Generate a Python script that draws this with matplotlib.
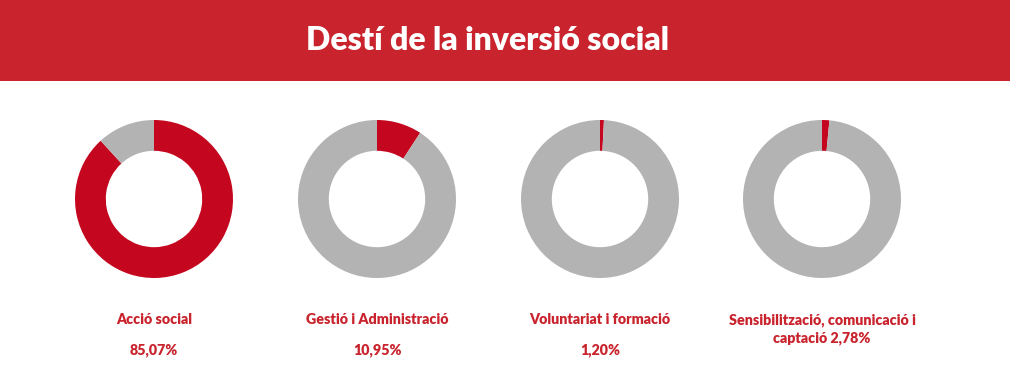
import matplotlib
matplotlib.use("Agg")
import matplotlib.pyplot as plt
from matplotlib.patches import Rectangle

W, H = 1010, 381

title = "Destí de la inversió social"
labels = ["Acció social", "Gestió i Administració", "Voluntariat i formació",
          "Sensibilització, comunicació i\ncaptació 2,78%"]
pct_text = ["85,07%", "10,95%", "1,20%", ""]
# red share as drawn in the rings
values = [88.2, 9.2, 0.8, 1.5]

red = "#c4071f"
grey = "#b3b3b3"
text_red = "#c9232d"
banner = "#c9232d"

plt.rcParams["font.family"] = ["Lato", "DejaVu Sans"]

fig = plt.figure(figsize=(W / 100, H / 100), dpi=100)
fig.patch.set_facecolor("white")

# banner
fig.patches.append(Rectangle((0, 1 - 81 / H), 1, 81 / H, transform=fig.transFigure,
                             facecolor=banner, edgecolor="none", zorder=0))
fig.text(488 / W, 1 - 40 / H, title, color="white", fontsize=23, fontweight="heavy",
         ha="center", va="center")

centers = [154, 377, 600, 822]
r = 79
for cx, lab, pt, v in zip(centers, labels, pct_text, values):
    ax = fig.add_axes([(cx - r) / W, 1 - (199 + r) / H, 2 * r / W, 2 * r / H])
    ax.pie([v, 100 - v], colors=[red, grey], startangle=90, counterclock=False,
           wedgeprops=dict(width=0.39, edgecolor="none"), radius=1)
    ax.set_xlim(-1, 1)
    ax.set_ylim(-1, 1)
    ax.set_aspect("equal")
    ax.axis("off")

    if "\n" in lab:
        fig.text(cx / W, 1 - 329 / H, lab, color=text_red, fontsize=10.3, fontweight="heavy",
                 ha="center", va="center", linespacing=1.4)
    else:
        fig.text(cx / W, 1 - 320 / H, lab, color=text_red, fontsize=10.3, fontweight="heavy",
                 ha="center", va="center")
        fig.text(cx / W, 1 - 350 / H, pt, color=text_red, fontsize=10.3, fontweight="heavy",
                 ha="center", va="center")

fig.savefig("out.png", dpi=100)
